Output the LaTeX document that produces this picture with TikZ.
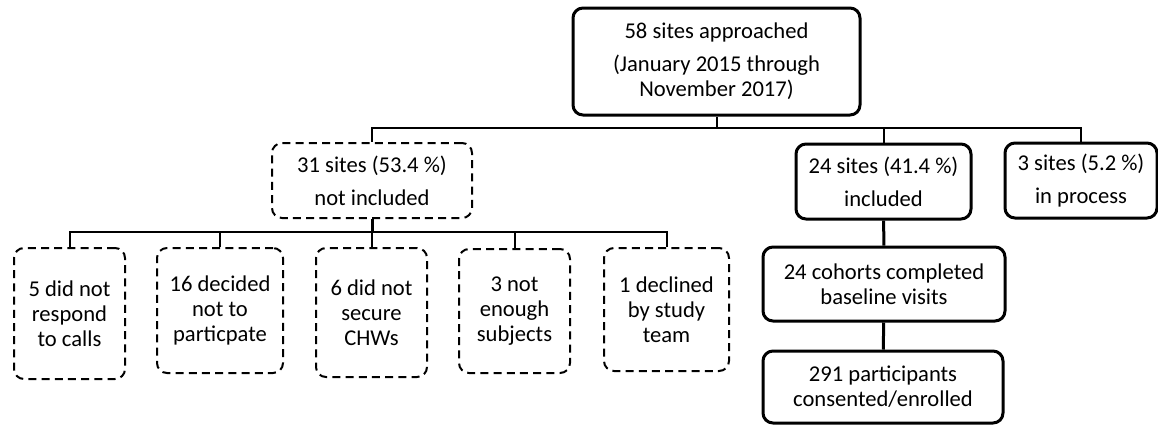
\documentclass[tikz,border=0pt]{standalone}
\usepackage{fontspec}
\setmainfont{Carlito}
\tikzset{
  sitebox/.style={draw, line width=1.5pt, rounded corners=5pt, align=center, inner sep=0pt,
    font=\fontsize{11.3}{12.5}\selectfont},
  dropbox/.style={sitebox, line width=1pt, dash pattern=on 4pt off 2.6pt},
  link/.style={line width=1pt},
}

\begin{document}
\begin{tikzpicture}[x=0.5pt, y=-0.5pt]
			%%%%% START %%%%%
			\useasboundingbox (0, 0) rectangle (1158, 425);
			
			\node[sitebox, minimum width=143.5pt, minimum height=53.5pt] (approached) at (716.5, 61.5)
				{58 sites approached\\[4pt](January 2015 through\\November 2017)};
			
			\node[dropbox, minimum width=100pt, minimum height=37.5pt] (notincl) at (372, 180.5)
				{31 sites (53.4 \%)\\[4pt]not included};
			\node[sitebox, minimum width=87.5pt, minimum height=37.5pt] (incl) at (883.5, 181.5)
				{24 sites (41.4 \%)\\[4pt]included};
			\node[sitebox, minimum width=76pt, minimum height=37.5pt] (inproc) at (1081, 180.5)
				{3 sites (5.2 \%)\\[4pt]in process};
			
			\node[sitebox, minimum width=121pt, minimum height=37pt] (cohorts) at (884, 284)
				{24 cohorts completed\\baseline visits};
			\node[sitebox, minimum width=120pt, minimum height=36pt] (enrolled) at (883, 387)
				{291 participants\\consented/enrolled};
			
			\node[dropbox, minimum width=55.5pt, minimum height=65.5pt] (norespond) at (69.5, 313.5)
				{5 did not\\respond\\to calls};
			\node[dropbox, minimum width=63pt, minimum height=62.5pt] (declined) at (220, 310.5)
				{16 decided\\not to\\particpate};
			\node[dropbox, minimum width=55.5pt, minimum height=64.5pt] (nochw) at (371.5, 312.5)
				{6 did not\\secure\\CHWs};
			\node[dropbox, minimum width=55.5pt, minimum height=62pt] (nosubj) at (514.5, 311)
				{3 not\\enough\\subjects};
			\node[dropbox, minimum width=62.5pt, minimum height=61.5pt] (byteam) at (666.5, 309.5)
				{1 declined\\by study\\team};
			
			\coordinate (split) at (716.5, 128);
			\coordinate (drop) at (372, 232);
			
			\draw[link] (approached) -- (split);
			\draw[link] (split) -| (notincl.north);
			\draw[link] (split) -| (incl.north);
			\draw[link] (split) -| (inproc.north);
			
			\draw[line width=1.5pt] (notincl) -- (drop);
			\foreach \b in {norespond, declined, nochw, nosubj, byteam}
				\draw[link] (drop) -| (\b.north);
			
			\draw[line width=1.5pt] (incl) -- (cohorts);
			\draw[line width=1.5pt] (cohorts) -- (enrolled);
			
			%%%%% END %%%%%
\end{tikzpicture}
\end{document}
